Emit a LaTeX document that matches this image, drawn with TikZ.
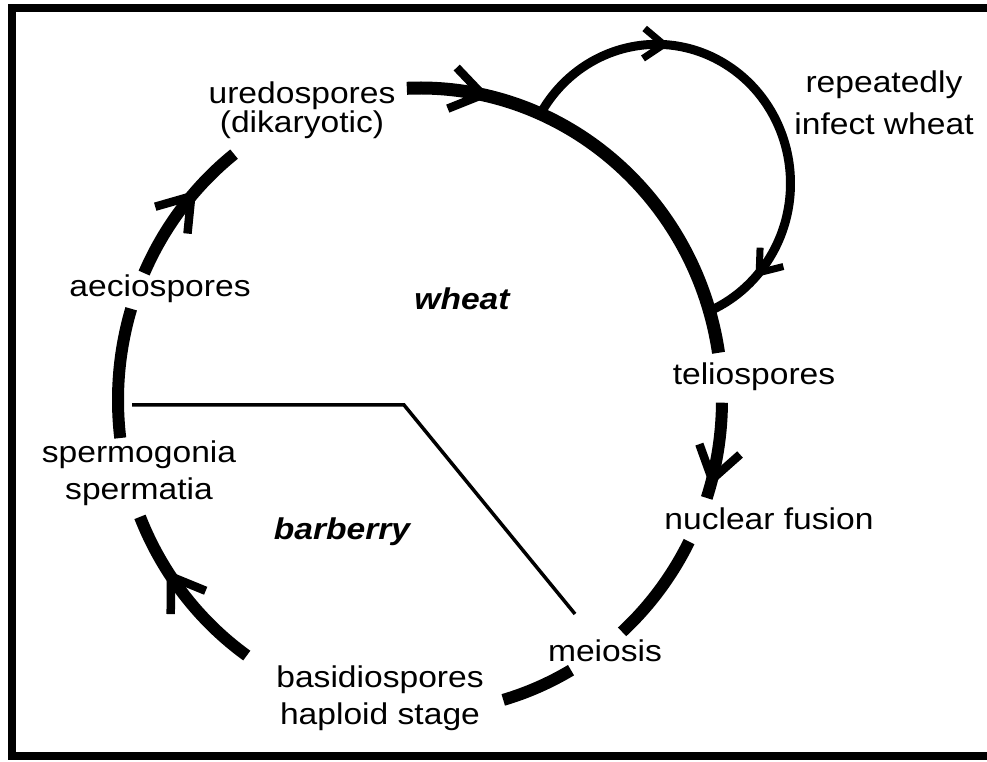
\documentclass[tikz,border=0pt]{standalone}
\usepackage{fontspec}
\setmainfont{Liberation Sans}[FakeStretch=1.12]
\usetikzlibrary{decorations.markings,positioning}
\newcommand{\bigbarb}{\draw[line width=8.5pt, line join=miter] (-31pt,21pt) -- (0pt,0pt) -- (-31pt,-21pt);}
\newcommand{\smallbarb}{\draw[line width=7pt, line join=miter] (-20pt,15pt) -- (0pt,0pt) -- (-20pt,-15pt);}
\tikzset{
	stage/.style={anchor=base, align=center, inner sep=0pt, font=\fontsize{30}{35}\selectfont},
	host/.style={stage, font=\fontsize{30}{35}\selectfont\bfseries\itshape},
	cyclearc/.style={line width=12pt},
	looparc/.style={line width=9pt},
	cycleradii/.style={x radius=302pt, y radius=312pt},
	midarrow/.style={postaction={decorate,decoration={markings,mark=at position #1 with {\bigbarb}}}},
	loopmarks/.style={postaction={decorate,decoration={markings,
		mark=at position 0.29 with {\smallbarb},
		mark=at position 0.88 with {\smallbarb}}}}
}

\begin{document}
\begin{tikzpicture}[x=1pt,y=1pt]
	\useasboundingbox (0,0) rectangle (987,762);
	% frame
	\draw[line width=8.5pt] (1000,754) -- (12,754) -- (12,6) -- (1000,6);

	% stages (base = last line)
	\node[stage] (ured) at (302,629) {uredospores\\[-6pt](dikaryotic)};
	\node[stage] (repinf) at (884,627) {repeatedly\\[7pt]infect wheat};
	\node[stage] (aecio) at (160,465) {aeciospores};
	\node[host] (wheat) at (462,452) {wheat};
	\node[stage] (telio) at (754,377) {teliospores};
	\node[stage] (sperm) at (139,262) {spermogonia\\[2pt]spermatia};
	\node[host] (barb) at (342,222) {barberry};
	\node[stage] (nucfus) at (769,232) {nuclear fusion};
	\node[stage] (meio) at (605,100) {meiosis};
	\node[stage] (basid) at (380,37) {basidiospores\\[2pt]haploid stage};

	% the cycle
	\begin{scope}[shift={(420,362)}]
		\coordinate (aecioout) at (156:302 and 312);
		\coordinate (spermout) at (187:302 and 312);
		\coordinate (basidout) at (235:302 and 312);
		\coordinate (meioout) at (-60:302 and 312);
		\coordinate (nucout) at (-27:302 and 312);
		\coordinate (telioout) at (-0.5:302 and 312);
		\coordinate (uredout) at (92.5:302 and 312);
		\coordinate (loopout) at (66.5:302 and 312);
	\end{scope}

	\draw[cyclearc, midarrow=0.6] (aecioout) arc[start angle=156, end angle=128, cycleradii];
	\draw[cyclearc] (spermout) arc[start angle=187, end angle=163, cycleradii];
	\draw[cyclearc, midarrow=0.62] (basidout) arc[start angle=235, end angle=202, cycleradii];
	\draw[cyclearc] (meioout) arc[start angle=-60, end angle=-74, cycleradii];
	\draw[cyclearc] (nucout) arc[start angle=-27, end angle=-48, cycleradii];
	\draw[cyclearc, midarrow=0.8] (telioout) arc[start angle=-0.5, end angle=-18.3, cycleradii];
	\draw[cyclearc, line width=13pt, midarrow=0.17] (uredout) arc[start angle=92.5, end angle=8.7, cycleradii];

	% repeated infection
	\draw[looparc, loopmarks] (loopout) arc[start angle=150, end angle=-66, x radius=134pt, y radius=139pt];

	% wheat / barberry
	\coordinate (split) at (404,357);
	\draw[line width=3.5pt] (132,357) -- (split) -- (575,148);
\end{tikzpicture}
\end{document}
